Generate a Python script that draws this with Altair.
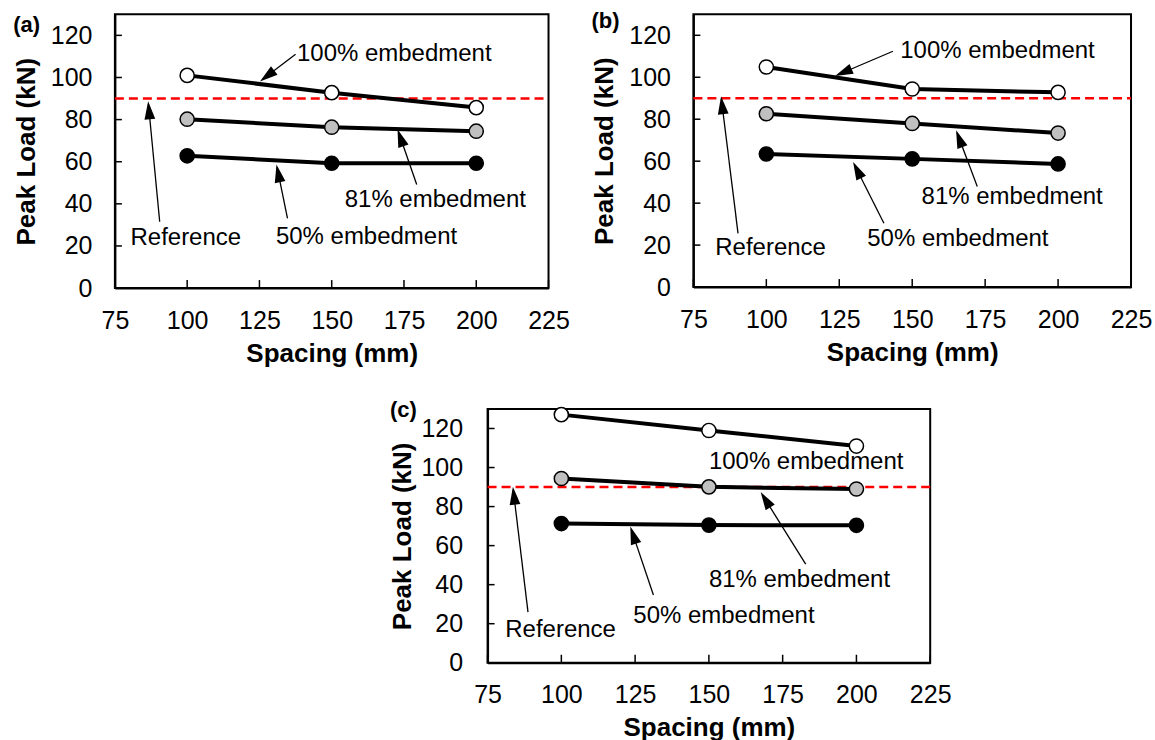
import math
import altair as alt
import pandas as pd

FONT = "Liberation Sans"

# ---------------- data ----------------
spacing_mm = [100, 150, 200]
series_names = ["100% embedment", "81% embedment", "50% embedment"]
series_fill = ["white", "#c0c0c0", "black"]
reference_load = 90

x_ticks = [75, 100, 125, 150, 175, 200, 225]
y_ticks = [0, 20, 40, 60, 80, 100, 120]

# panel (a)
a_100 = [101.0, 92.8, 85.7]
a_81 = [80.2, 76.4, 74.5]
a_50 = [62.8, 59.3, 59.3]
# panel (b)
b_100 = [104.9, 94.4, 92.8]
b_81 = [82.6, 78.0, 73.4]
b_50 = [63.4, 61.1, 58.7]
# panel (c)
c_100 = [127.1, 119.0, 111.0]
c_81 = [94.4, 90.1, 89.0]
c_50 = [71.3, 70.5, 70.4]

# annotation texts (left edge x, middle y, in data units)
a_text = ["100% embedment", "81% embedment", "50% embedment", "Reference"]
a_text_x = [138.0, 154.5, 130.7, 80.4]
a_text_y = [111.0, 41.7, 24.3, 23.9]
b_text = ["100% embedment", "81% embedment", "50% embedment", "Reference"]
b_text_x = [145.9, 153.2, 134.6, 82.5]
b_text_y = [112.4, 42.8, 22.9, 18.8]
c_text = ["100% embedment", "81% embedment", "50% embedment", "Reference"]
c_text_x = [150.0, 150.0, 124.4, 81.0]
c_text_y = [103.0, 42.5, 24.2, 16.9]

# annotation arrows: tail (x1, y1) -> head (x2, y2), in data units
a_arrow_x1 = [137.5, 179.4, 134.7, 90.5]
a_arrow_y1 = [111.0, 49.2, 33.1, 31.5]
a_arrow_x2 = [126.0, 173.1, 131.1, 86.6]
a_arrow_y2 = [99.0, 74.1, 57.3, 87.3]
b_arrow_x1 = [143.4, 172.3, 140.3, 90.3]
b_arrow_y1 = [112.4, 47.9, 30.4, 25.6]
b_arrow_x2 = [124.5, 165.4, 130.2, 84.6]
b_arrow_y2 = [101.2, 73.4, 58.3, 89.5]
c_arrow_x1 = [182.8, 131.2, 88.7]
c_arrow_y1 = [50.5, 34.7, 25.9]
c_arrow_x2 = [168.1, 123.7, 83.7]
c_arrow_y2 = [86.1, 68.3, 88.6]

panel_letters = ["(a)", "(b)", "(c)"]
panel_letter_x = [44.5, 44.9, 46.5]
panel_letter_y = [124.8, 126.7, 129.6]

X_DOMAIN = [75, 225]
Y_DOMAIN = [0, 130]

ARROW_PATH = "M0,-0.2L0.36,1L-0.36,1Z"


def make_panel(idx, v100, v81, v50, tx, ty, tlab, ax1, ay1, ax2, ay2,
               width, height, y_label_pad, y_title_pad):
    rows = []
    for name, vals in zip(series_names, [v100, v81, v50]):
        for s, v in zip(spacing_mm, vals):
            rows.append({"x": s, "y": v, "series": name})
    df = pd.DataFrame(rows)

    xs = alt.Scale(domain=X_DOMAIN, nice=False, zero=False)
    ys = alt.Scale(domain=Y_DOMAIN, nice=False, zero=True)
    x_axis = alt.Axis(values=x_ticks, ticks=False, grid=False, labelPadding=20,
                      labelFontSize=25, labelColor="black", labelFont=FONT,
                      titleFontSize=26, titleFontWeight="bold", titleFont=FONT,
                      titleColor="black", titlePadding=7, domainColor="black",
                      domainWidth=2, labelFlush=False)
    y_axis = alt.Axis(values=y_ticks, ticks=False, grid=False,
                      labelPadding=y_label_pad, labelFontSize=25,
                      labelColor="black", labelFont=FONT, titleFontSize=26,
                      titleFontWeight="bold", titleFont=FONT, titleColor="black",
                      titlePadding=y_title_pad, domainColor="black",
                      domainWidth=2, labelFlush=False)
    X = alt.X("x:Q", scale=xs, axis=x_axis, title="Spacing (mm)")
    Y = alt.Y("y:Q", scale=ys, axis=y_axis, title="Peak Load (kN)")

    ref_df = pd.DataFrame({"x": [X_DOMAIN[0]], "x2": [X_DOMAIN[1]], "y": [reference_load]})
    ref = alt.Chart(ref_df).mark_rule(color="#ff0000", strokeWidth=2.5,
                                      strokeDash=[9, 5]).encode(x=X, x2="x2:Q", y=Y)

    lines = alt.Chart(df).mark_line(color="black", strokeWidth=4).encode(
        x=X, y=Y, detail="series:N")
    pts = alt.Chart(df).mark_point(shape="circle", filled=True, size=200,
                                   stroke="black", strokeWidth=1.5,
                                   opacity=1).encode(
        x=X, y=Y,
        fill=alt.Fill("series:N", scale=alt.Scale(domain=series_names,
                                                  range=series_fill), legend=None))

    sx = width / (X_DOMAIN[1] - X_DOMAIN[0])
    sy = height / (Y_DOMAIN[1] - Y_DOMAIN[0])
    angles = []
    for x1, y1, x2, y2 in zip(ax1, ay1, ax2, ay2):
        ang = math.degrees(math.atan2((x2 - x1) * sx, (y2 - y1) * sy))
        angles.append(ang % 360)
    arr_df = pd.DataFrame({"x": ax1, "y": ay1, "x2": ax2, "y2": ay2, "angle": angles})
    arrows = alt.Chart(arr_df).mark_rule(color="black", strokeWidth=1.3).encode(
        x=X, y=Y, x2="x2:Q", y2="y2:Q")
    heads = alt.Chart(arr_df).mark_point(shape=ARROW_PATH, filled=True, size=900,
                                         color="black", opacity=1).encode(
        x=alt.X("x2:Q", scale=xs), y=alt.Y("y2:Q", scale=ys),
        angle=alt.Angle("angle:Q", scale=None))

    txt_df = pd.DataFrame({"x": tx, "y": ty, "label": tlab})
    texts = alt.Chart(txt_df).mark_text(align="left", baseline="middle",
                                        fontSize=24, font=FONT,
                                        color="black").encode(x=X, y=Y, text="label:N")

    ytk = alt.Chart(pd.DataFrame({"y": y_ticks})).mark_rule(
        color="black", strokeWidth=1.5).encode(y=Y, x=alt.value(0), x2=alt.value(7))
    xtk = alt.Chart(pd.DataFrame({"x": x_ticks})).mark_rule(
        color="black", strokeWidth=1.5).encode(x=X, y=alt.value(height),
                                               y2=alt.value(height - 8))

    lab_df = pd.DataFrame({"x": [panel_letter_x[idx]], "y": [panel_letter_y[idx]],
                           "label": [panel_letters[idx]]})
    lab = alt.Chart(lab_df).mark_text(align="center", baseline="middle",
                                      fontSize=22, fontWeight="bold", font=FONT,
                                      color="black").encode(x=X, y=Y, text="label:N")

    return alt.layer(ref, lines, pts, arrows, heads, texts, ytk, xtk, lab).properties(
        width=width, height=height)


pa = make_panel(0, a_100, a_81, a_50, a_text_x, a_text_y, a_text,
                a_arrow_x1, a_arrow_y1, a_arrow_x2, a_arrow_y2, 434, 274, 23, 11)
pb = make_panel(1, b_100, b_81, b_50, b_text_x, b_text_y, b_text,
                b_arrow_x1, b_arrow_y1, b_arrow_x2, b_arrow_y2, 438, 273, 23, 11)
pc = make_panel(2, c_100, c_81, c_50, c_text_x, c_text_y, c_text,
                c_arrow_x1, c_arrow_y1, c_arrow_x2, c_arrow_y2, 443, 254, 25, 5)

spacer = alt.Chart(pd.DataFrame({"v": [0]})).mark_point(opacity=0).encode(
    x=alt.X("v:Q", axis=None), y=alt.Y("v:Q", axis=None)).properties(
    width=263, height=10, view=alt.ViewBackground(stroke="transparent"))

row1 = alt.hconcat(pa, pb, spacing=20)
row2 = alt.hconcat(spacer, pc, spacing=10)

chart = alt.vconcat(row1, row2, spacing=30, center=False).properties(
    padding={"left": 12, "top": 8, "right": 2, "bottom": 2},
    background="white"
).configure_view(stroke="black", strokeWidth=2)

chart.save("out.html", embed_options={"renderer": "svg", "actions": False})
